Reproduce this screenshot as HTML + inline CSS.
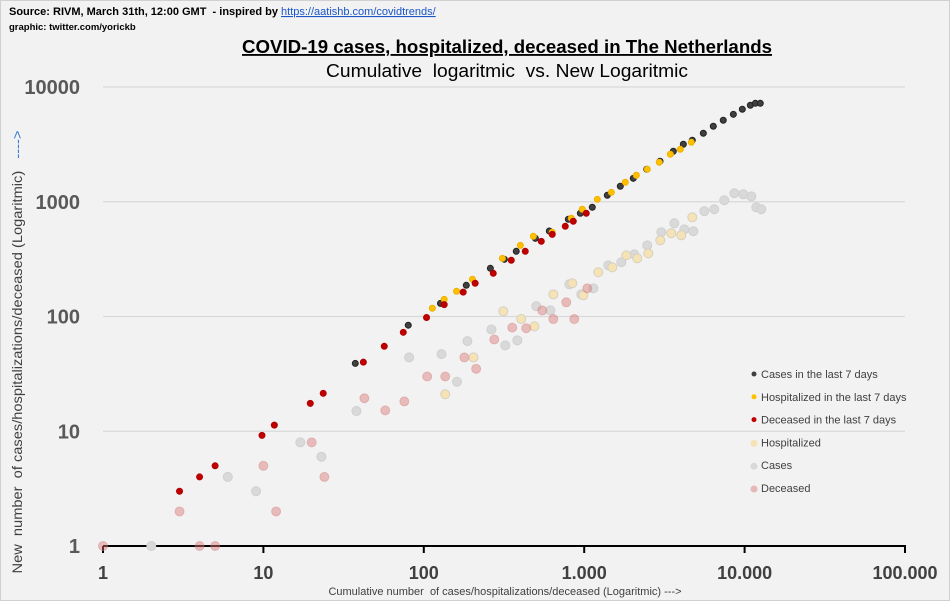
<!DOCTYPE html>
<html><head><meta charset="utf-8"><style>
html,body{margin:0;padding:0;background:#fff}
#wrap{position:relative;width:950px;height:601px;background:#f2f2f2;overflow:hidden;font-family:"Liberation Sans",sans-serif}
svg{position:absolute;left:0;top:0}
</style></head><body>
<div id="wrap">
<svg id="chart" width="950" height="601">
<rect x="0.5" y="0.5" width="949" height="600" fill="#f2f2f2" stroke="#d0d0d0"/>
<text x="9" y="15" font-size="11" font-weight="bold" fill="#000">Source: RIVM, March 31th, 12:00 GMT&#160; - inspired by <tspan fill="#1a56c8" text-decoration="underline" font-weight="normal">https://aatishb.com/covidtrends/</tspan></text>
<text x="9" y="30" font-size="9.5" font-weight="bold" fill="#000">graphic: twitter.com/yorickb</text>
<text x="507" y="53" font-size="18.5" font-weight="bold" text-anchor="middle" fill="#000" textLength="530" lengthAdjust="spacingAndGlyphs" text-decoration="underline">COVID-19 cases, hospitalized, deceased in The Netherlands</text>
<text x="507" y="77" font-size="18.5" text-anchor="middle" fill="#000" textLength="362" lengthAdjust="spacingAndGlyphs">Cumulative&#160; logaritmic&#160; vs. New Logaritmic</text>
<g id="grid"></g><g id="axes"></g><g id="marks"></g><g id="legend"></g>
<text transform="translate(22,352) rotate(-90)" font-size="14" text-anchor="middle" fill="#404040" textLength="443" lengthAdjust="spacingAndGlyphs">New&#160; number&#160; of cases/hospitalizations/deceased (Logaritmic)&#160;&#160; <tspan fill="#3a7bd5">----&gt;</tspan></text>
<text x="505" y="595" font-size="11" text-anchor="middle" fill="#404040">Cumulative number&#160; of cases/hospitalizations/deceased (Logaritmic) ---&gt;</text>
</svg>
</div>
<script>
const xTicks=[1,10,100,1000,10000,100000];
const xTickLabels=["1","10","100","1.000","10.000","100.000"];
const yTicks=[1,10,100,1000,10000];
const yTickLabels=["1","10","100","1000","10000"];
const casesCum=[[2,1],[6,4],[9,3],[17,8],[23,6],[38,15],[81,44],[129,47],[161,27],[187,61],[264,77],[322,56],[383,62],[503,123],[615,113],[808,191],[959,156],[1140,176],[1413,279],[1703,297],[2052,348],[2473,417],[3026,542],[3648,649],[4208,575],[4790,553],[5610,826],[6470,860],[7470,1030],[8630,1186],[9810,1161],[11010,1115],[11830,895],[12710,860]];
const hospCum=[[136,21],[204,44],[313,111],[405,95],[489,82],[642,156],[843,195],[987,153],[1224,243],[1497,268],[1830,341],[2143,321],[2510,355],[2980,461],[3490,531],[4030,510],[4720,732]];
const decCum=[[1,1],[3,2],[4,1],[5,1],[10,5],[12,2],[20,8],[24,4],[42.6,19.4],[57.5,15.2],[75.6,18.2],[105,30],[136,30],[179,44],[212,35],[275,63],[356,80],[435,79],[548,113],[642,95],[773,133],[867,95],[1045,176]];
const cases7=[[37.4,39],[80,84],[127,130],[184,187],[260,263],[318,315],[377,370],[496,480],[606,556],[796,703],[946,793],[1123,895],[1393,1138],[1679,1364],[2023,1600],[2454,1919],[2970,2254],[3594,2754],[4150,3170],[4720,3433],[5530,3953],[6380,4548],[7360,5128],[8510,5780],[9680,6400],[10860,6930],[11670,7210],[12530,7210]];
const hosp7=[[113,118],[134,141],[160,166],[201,211],[309,321],[400,417],[482,500],[632,542],[831,718],[973,860],[1207,1050],[1476,1208],[1803,1479],[2113,1701],[2473,1919],[2938,2208],[3443,2593],[3972,2865],[4656,3297]];
const dec7=[[3,3],[4,4],[5,5],[9.8,9.2],[11.7,11.3],[19.6,17.5],[23.6,21.4],[42,40],[56.7,55],[74.5,72.8],[104,98],[134,127],[176,163],[209,195],[271,238],[351,309],[429,370],[540,452],[632,520],[762,611],[855,676],[1030,793]];

const X0=103,XD=160.4,Y0=546,YD=114.75,NS="http://www.w3.org/2000/svg";
function xs(v){return X0+Math.log10(v)*XD}
function ys(v){return Y0-Math.log10(v)*YD}
function mk(tag,attrs,parent){const e=document.createElementNS(NS,tag);for(const k in attrs)e.setAttribute(k,attrs[k]);parent.appendChild(e);return e}
const grid=document.getElementById('grid'),axes=document.getElementById('axes'),marks=document.getElementById('marks'),legend=document.getElementById('legend');
yTicks.forEach((t,i)=>{
  if(t>1){const l=mk('line',{x1:X0,x2:905,y1:ys(t),y2:ys(t),stroke:'#d9d9d9','stroke-width':1.2},grid);
  
  }
  const tx=mk('text',{x:80,y:ys(t)+7,'text-anchor':'end','font-size':20,'font-weight':'bold',fill:'#595959'},axes);
  tx.textContent=yTickLabels[i];
  
  
});
const ax=mk('line',{x1:X0,x2:906,y1:Y0,y2:Y0,stroke:'#000','stroke-width':2},axes);


xTicks.forEach((t,i)=>{
  const tk=mk('line',{x1:xs(t),x2:xs(t),y1:Y0,y2:Y0+7,stroke:'#000','stroke-width':2},axes);
  
  
  const tx=mk('text',{x:xs(t),y:579,'text-anchor':'middle','font-size':18,'font-weight':'bold',fill:'#404040'},axes);
  tx.textContent=xTickLabels[i];
  
  
});
function series(data,r,fill,stroke,name){
  data.forEach(d=>{
    const c=mk('circle',{cx:xs(d[0]),cy:ys(d[1]),r:r,fill:fill,stroke:stroke,'stroke-width':1},marks);
    
    
  });
}
series(casesCum,4.5,'#d9d9d9','#d0d0d0','cases-cumulative-point');
series(hospCum,4.5,'#f5e3b5','#d6d0c0','hospitalized-cumulative-point');
series(decCum,4.5,'rgba(220,120,120,0.45)','rgba(210,120,120,0.4)','deceased-cumulative-point');
series(cases7,3,'#404040','#222','cases-7day-point');
series(hosp7,3,'#ffc000','#f0b000','hospitalized-7day-point');
series(dec7,3,'#c00000','#b00000','deceased-7day-point');
const leg=[['Cases in the last 7 days','#404040',2.5],['Hospitalized in the last 7 days','#ffc000',2.5],['Deceased  in the last 7 days','#c00000',2.5],['Hospitalized','#f5e3b5',3.5],['Cases','#d9d9d9',3.5],['Deceased','#e6b8b8',3.5]];
leg.forEach((l,i)=>{
  const y=374+i*22.8;
  const c=mk('circle',{cx:754,cy:y+(i>2?1:0),r:l[2],fill:l[1]},legend);
  
  
  const t=mk('text',{x:761,y:y+4,'font-size':11,fill:'#404040','xml:space':'preserve'},legend);
  t.textContent=l[0];
  
  
});
</script>
</body></html>
